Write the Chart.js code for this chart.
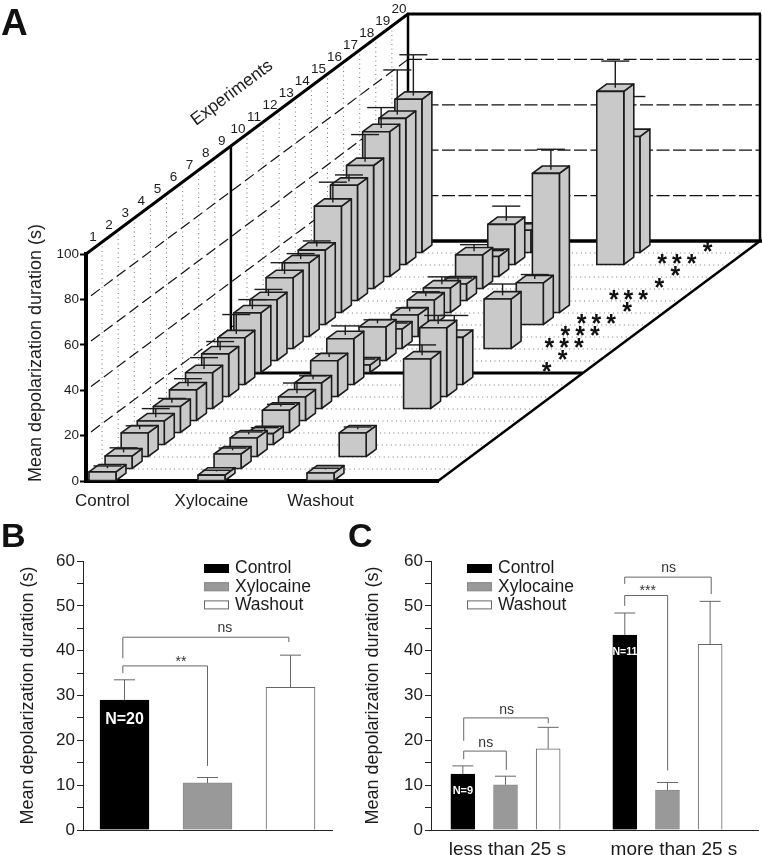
<!DOCTYPE html>
<html>
<head>
<meta charset="utf-8">
<title>Mean depolarization duration</title>
<script src="https://cdn.jsdelivr.net/npm/chart.js@4/dist/chart.umd.min.js"></script>
<style>
  html, body { margin: 0; padding: 0; background: #fff; }
  #page { position: relative; width: 762px; height: 855px; overflow: hidden; }
  canvas { position: absolute; }
</style>
</head>
<body>
<div id="page">
  <canvas id="chartA" width="762" height="515" style="left:0;top:0"></canvas>
  <canvas id="chartB" width="345" height="340" style="left:0;top:515px"></canvas>
  <canvas id="chartC" width="417" height="340" style="left:345px;top:515px"></canvas>
</div>
<script>
// Data
const conditions = ["Control", "Xylocaine", "Washout"];
const experiments = [1, 2, 3, 4, 5, 6, 7, 8, 9, 10, 11, 12, 13, 14, 15, 16, 17, 18, 19, 20];
const axisTicksA = [0, 20, 40, 60, 80, 100];

// Panel A, one value per experiment (null = no bar)
const controlValues = [4, 5.7, 10.6, 10.6, 11.7, 13.7, 16, 19, 20.8, 26.5, 27, 31.4, 32.7, 33, 47, 51, 54.4, 64, 64.6, 67.7];
const controlErrors = [1, 2, 1.5, 3.8, 1.9, 3.3, 5, 3.8, 8.6, 4.2, 2.9, 5, 2.4, 2.4, 9, 2.9, 12, 9, 19.7, 18];
const xylocaineValues = [2.6, 6.6, 8.4, 5, 10, 10.6, 11.5, 16, 20.4, 3.5, 15, 8.8, 9.7, 11, 11, 7.5, 15, 9, 17.9, 10];
const xylocaineErrors = [0.5, 1, 1, 1, 1, 4.5, 1.5, 1.5, 4, 1, 1.5, 1, 1.5, 2, 3.3, 1, 2.9, 1, 6.4, 1.2];
const washoutValues = [3.5, null, 10.6, null, null, null, 22, 30.5, 21, null, null, 22, null, 18.6, 61.5, null, null, null, 76.5, 51.3];
const washoutErrors = [0.5, null, 1, null, null, null, 4.6, 3.8, 8, null, null, 5, null, 2, 9, null, null, null, 11.7, 16];
const significanceRows = [[10, [3]], [11, [3]], [12, [1, 2, 3]], [13, [1, 2, 3]], [14, [1, 2, 3]], [15, [3]], [16, [1, 2, 3]], [17, [3]], [18, [3]], [19, [1, 2, 3]], [20, [3]]];

// Panel B
const bValues = [29, 10.5, 31.8];
const bErrors = [4.5, 1.2, 7.2];

// Panel C
const cGroups = ["less than 25 s", "more than 25 s"];
const cControl = [12.5, 43.5];
const cControlErrors = [1.8, 4.9];
const cXylocaine = [10.1, 8.9];
const cXylocaineErrors = [1.9, 1.7];
const cWashout = [18.1, 41.4];
const cWashoutErrors = [4.8, 9.6];

const FONT = "'Liberation Sans', Arial, sans-serif";
const TEXT = "#1c1c1c";
const Y_TITLE = "Mean depolarization duration (s)";
Chart.defaults.font.family = FONT;
Chart.defaults.color = TEXT;
Chart.defaults.animation = false;

const swatches = [
  { fill: "#000", line: "#000" },
  { fill: "#999", line: "#8c8c8c" },
  { fill: "#fff", line: "#666" },
];

function line(ctx, x1, y1, x2, y2) {
  ctx.beginPath();
  ctx.moveTo(x1, y1);
  ctx.lineTo(x2, y2);
  ctx.stroke();
}

function label(ctx, text, x, y, font, color, align, angle) {
  ctx.save();
  ctx.translate(x, y);
  ctx.rotate(angle || 0);
  ctx.font = font;
  ctx.fillStyle = color || TEXT;
  ctx.textAlign = align || "center";
  ctx.textBaseline = "middle";
  ctx.fillText(text, 0, 0);
  ctx.restore();
}

// Panel letter, legend, error bars, brackets and N= labels for B and C
const annotate = {
  id: "annotate",
  afterDatasetsDraw(chart, args, opts) {
    const ctx = chart.ctx;
    const x = chart.scales.x;
    const y = chart.scales.y;
    ctx.save();

    ctx.strokeStyle = "#666";
    ctx.lineWidth = 1;
    chart.data.datasets.forEach((ds, d) => {
      chart.getDatasetMeta(d).data.forEach((bar, i) => {
        const val = ds.data[i].y !== undefined ? ds.data[i].y : ds.data[i];
        const top = y.getPixelForValue(val + ds.errors[i]);
        line(ctx, bar.x, bar.y, bar.x, top);
        line(ctx, bar.x - opts.capWidth / 2, top, bar.x + opts.capWidth / 2, top);
      });
    });

    opts.brackets.forEach((b) => {
      const top = y.getPixelForValue(b.top);
      ctx.strokeStyle = "#666";
      ctx.beginPath();
      ctx.moveTo(x.getPixelForValue(b.from), y.getPixelForValue(b.fromEnd));
      ctx.lineTo(x.getPixelForValue(b.from), top);
      ctx.lineTo(x.getPixelForValue(b.to), top);
      ctx.lineTo(x.getPixelForValue(b.to), y.getPixelForValue(b.toEnd));
      ctx.stroke();
      label(ctx, b.text, x.getPixelForValue(b.textAt), y.getPixelForValue(b.textY), "14px " + FONT, "#333");
    });

    opts.counts.forEach((n) => {
      label(ctx, n.text, x.getPixelForValue(n.at), y.getPixelForValue(n.y), "bold " + n.size + "px " + FONT, "#fff");
    });

    conditions.forEach((name, i) => {
      const rowY = opts.legendY + i * 18.2;
      ctx.fillStyle = swatches[i].fill;
      ctx.strokeStyle = swatches[i].line;
      ctx.fillRect(opts.legendX, rowY, 25, 9);
      ctx.strokeRect(opts.legendX + 0.5, rowY + 0.5, 24, 8);
      label(ctx, name, opts.legendX + 31, rowY + 4.5, "17.5px " + FONT, TEXT, "left");
    });

    label(ctx, opts.letter, opts.letterX, 23, "bold 34px " + FONT, "#111", "left");
    ctx.restore();
  },
};

function yAxisBC(leftWidth) {
  return {
    min: 0,
    max: 60,
    afterFit(scale) { scale.width = leftWidth; },
    title: { display: true, text: Y_TITLE, font: { size: 18 }, color: TEXT, padding: { top: 17, bottom: 0 } },
    border: { color: "#222", width: 1 },
    grid: { drawOnChartArea: false, tickColor: "#222", tickLength: 6 },
    ticks: {
      stepSize: 5,
      autoSkip: false,
      padding: 2,
      font: { size: 17 },
      color: TEXT,
      callback: (v) => (v % 10 === 0 ? v : ""),
    },
  };
}

// Panel B
new Chart(document.getElementById("chartB"), {
  type: "bar",
  data: {
    labels: conditions,
    datasets: [{
      data: bValues,
      errors: bErrors,
      backgroundColor: swatches.map((s) => s.fill),
      borderColor: swatches.map((s) => s.line),
      borderWidth: 1,
      barThickness: 49,
    }],
  },
  options: {
    responsive: false,
    layout: { padding: { top: 46, bottom: 25, right: 13 } },
    plugins: {
      legend: { display: false },
      tooltip: { enabled: false },
      annotate: {
        capWidth: 21,
        letter: "B",
        letterX: 1,
        legendX: 204,
        legendY: 49,
        brackets: [
          { from: -0.02, to: 1, top: 36.6, fromEnd: 35, toEnd: 14.3, text: "**", textAt: 0.68, textY: 37.4 },
          { from: -0.02, to: 1.98, top: 43, fromEnd: 38.3, toEnd: 41.9, text: "ns", textAt: 1.21, textY: 45 },
        ],
        counts: [{ text: "N=20", at: 0, y: 24.6, size: 16 }],
      },
    },
    scales: {
      x: {
        afterFit(scale) { scale.height = 0; },
        border: { color: "#222", width: 1 },
        grid: { display: false },
        ticks: { display: false },
      },
      y: yAxisBC(83),
    },
  },
  plugins: [annotate],
});

// Panel C: x axis in group units, bars step inside a group
const SERIES_STEP = 0.2634;
const groupPoints = (values, s) => values.map((v, i) => ({ x: i + (s - 1) * SERIES_STEP, y: v }));
const cSeries = [[cControl, cControlErrors], [cXylocaine, cXylocaineErrors], [cWashout, cWashoutErrors]];

new Chart(document.getElementById("chartC"), {
  type: "bar",
  data: {
    datasets: cSeries.map(([values, errors], s) => ({
      label: conditions[s],
      data: groupPoints(values, s),
      errors: errors,
      grouped: false,
      backgroundColor: swatches[s].fill,
      borderColor: swatches[s].line,
      borderWidth: 1,
      barThickness: 24,
    })),
  },
  options: {
    responsive: false,
    layout: { padding: { top: 46, right: 4 } },
    plugins: {
      legend: { display: false },
      tooltip: { enabled: false },
      annotate: {
        capWidth: 21,
        letter: "C",
        letterX: 3,
        legendX: 122,
        legendY: 49,
        brackets: [
          { from: -0.258, to: 0.005, top: 17.6, fromEnd: 15.8, toEnd: 13.4, text: "ns", textAt: -0.122, textY: 19.4 },
          { from: -0.258, to: 0.264, top: 25, fromEnd: 19.9, toEnd: 23.8, text: "ns", textAt: 0.007, textY: 26.8 },
          { from: 0.736, to: 1.001, top: 52.3, fromEnd: 50, toEnd: 13.3, text: "***", textAt: 0.878, textY: 53.2 },
          { from: 0.736, to: 1.27, top: 56.4, fromEnd: 54.9, toEnd: 52.6, text: "ns", textAt: 1.007, textY: 58.4 },
        ],
        counts: [
          { text: "N=9", at: -0.263, y: 8.8, size: 11 },
          { text: "N=11", at: 0.737, y: 39.7, size: 10.5 },
        ],
      },
    },
    scales: {
      x: {
        type: "linear",
        offset: false,
        min: -0.46,
        max: 1.559,
        afterFit(scale) { scale.height = 25; },
        afterBuildTicks(scale) { scale.ticks = [{ value: 0.012 }, { value: 1.04 }]; },
        border: { color: "#222", width: 1 },
        grid: { display: false, offset: false },
        ticks: {
          autoSkip: false,
          maxRotation: 0,
          padding: 0,
          font: { size: 19 },
          color: TEXT,
          callback: (v, i) => cGroups[i],
        },
      },
      y: yAxisBC(86),
    },
  },
  plugins: [annotate],
});

// Panel A: oblique projection. x+y are the front plane, zx/zy carry the experiment depth.
const BAR_W = 27;
const BAR_DX = 10;
const BAR_DY = 7.4;
const CAP = 14;

function depth(chart, exp) {
  return {
    dx: chart.scales.zx.getPixelForValue(exp) - chart.scales.zx.getPixelForValue(1),
    dy: chart.scales.zy.getPixelForValue(exp) - chart.scales.zy.getPixelForValue(1),
  };
}

function drawCuboid(ctx, x, top, bottom) {
  ctx.fillStyle = "#c9c9c9";
  ctx.strokeStyle = "#1c1c1c";
  ctx.lineWidth = 1.6;
  ctx.lineJoin = "round";
  // side face
  ctx.beginPath();
  ctx.moveTo(x + BAR_W, bottom);
  ctx.lineTo(x + BAR_W + BAR_DX, bottom - BAR_DY);
  ctx.lineTo(x + BAR_W + BAR_DX, top - BAR_DY);
  ctx.lineTo(x + BAR_W, top);
  ctx.closePath();
  ctx.fill();
  ctx.stroke();
  // top face
  ctx.beginPath();
  ctx.moveTo(x, top);
  ctx.lineTo(x + BAR_DX, top - BAR_DY);
  ctx.lineTo(x + BAR_W + BAR_DX, top - BAR_DY);
  ctx.lineTo(x + BAR_W, top);
  ctx.closePath();
  ctx.fill();
  ctx.stroke();
  // front face
  ctx.fillRect(x, top, BAR_W, bottom - top);
  ctx.strokeRect(x, top, BAR_W, bottom - top);
}

const wallsAndBars = {
  id: "wallsAndBars",
  beforeDatasetsDraw(chart) {
    const ctx = chart.ctx;
    const { x, y } = chart.scales;
    const area = chart.chartArea;
    const back = depth(chart, 21);
    const left = area.left;
    const right = area.right;
    const y0 = y.getPixelForValue(0);
    const y100 = y.getPixelForValue(100);
    ctx.save();
    ctx.lineCap = "butt";

    // dotted guides on the side wall and on the floor
    ctx.strokeStyle = "#777";
    ctx.lineWidth = 1;
    ctx.setLineDash([1, 3.5]);
    experiments.slice(0, 19).forEach((e) => {
      const d = depth(chart, e + 1);
      if (e !== 9) {
        line(ctx, left + d.dx, y100 + d.dy, left + d.dx, y0 + d.dy);
        line(ctx, left + d.dx, y0 + d.dy, right + d.dx, y0 + d.dy);
      }
    });

    // dashed value lines, side wall then back wall
    ctx.strokeStyle = "#111";
    ctx.lineWidth = 1.2;
    axisTicksA.slice(1, 5).forEach((v) => {
      const py = y.getPixelForValue(v);
      ctx.setLineDash([11, 5]);
      line(ctx, left + 5, py - 3.7, left + back.dx, py + back.dy);
      ctx.setLineDash([13, 3.5]);
      line(ctx, left + back.dx + 1, py + back.dy, right + back.dx, py + back.dy);
    });
    ctx.setLineDash([]);

    // frame
    ctx.strokeStyle = "#000";
    ctx.lineWidth = 3;
    line(ctx, left, y100, left + back.dx, y100 + back.dy);
    line(ctx, left + back.dx - 1, y100 + back.dy, right + back.dx + 1, y100 + back.dy);
    ctx.lineWidth = 2.5;
    line(ctx, left + back.dx, y100 + back.dy, left + back.dx, y0 + back.dy);
    line(ctx, right + back.dx, y100 + back.dy, right + back.dx, y0 + back.dy);
    ctx.lineWidth = 3.5;
    line(ctx, left + back.dx, y0 + back.dy, right + back.dx + 2, y0 + back.dy);
    ctx.lineWidth = 2.5;
    line(ctx, right, y0, right + back.dx, y0 + back.dy);

    // middle plane behind experiment 9
    const mid = depth(chart, 10);
    ctx.lineWidth = 2.5;
    line(ctx, left + mid.dx, y100 + mid.dy, left + mid.dx, y0 + mid.dy);
    ctx.lineWidth = 3;
    line(ctx, left + mid.dx, y0 + mid.dy, right + mid.dx, y0 + mid.dy);

    // bars, back to front
    for (let e = experiments.length - 1; e >= 0; e--) {
      const d = depth(chart, experiments[e]);
      chart.data.datasets.forEach((ds) => {
        const pt = ds.data[e];
        if (!pt || pt.y === null) return;
        const bx = x.getPixelForValue(pt.x) - BAR_W / 2 + d.dx;
        const top = y.getPixelForValue(pt.y) + d.dy;
        drawCuboid(ctx, bx, top, y0 + d.dy - 0.5);
        const cx = bx + BAR_W / 2 + BAR_DX / 2;
        const base = top - BAR_DY / 2;
        const capY = y.getPixelForValue(pt.y + pt.err) + d.dy - BAR_DY / 2;
        ctx.strokeStyle = "#1c1c1c";
        ctx.lineWidth = 1.4;
        line(ctx, cx, base, cx, capY);
        line(ctx, cx - CAP, capY, cx + CAP, capY);
      });
    }
    ctx.restore();
  },
  afterDatasetsDraw(chart) {
    const ctx = chart.ctx;
    const { x, y } = chart.scales;
    const area = chart.chartArea;
    const y100 = y.getPixelForValue(100);

    // significance stars on the floor
    significanceRows.forEach(([exp, slots]) => {
      const d = depth(chart, exp);
      slots.forEach((slot) => {
        const sx = x.getPixelForValue(2.475 + (slot - 1) * 0.135) + d.dx;
        label(ctx, "*", sx, y.getPixelForValue(0) + d.dy, "bold 25px " + FONT, "#111");
      });
    });

    // experiment numbers along the top edge
    experiments.forEach((e) => {
      const d = depth(chart, e);
      label(ctx, String(e), area.left + 7 + d.dx, y100 - 17 + d.dy, "13.5px " + FONT, TEXT);
    });

    const tilt = Math.atan2(12, 16.1);
    label(ctx, "Experiments", 232, 93, "17.5px " + FONT, TEXT, "center", -tilt);
    label(ctx, Y_TITLE, 36, 353, "18px " + FONT, TEXT, "center", -Math.PI / 2);
    label(ctx, "A", 1, 25, "bold 37px " + FONT, "#111", "left");
  },
};

const seriesA = [[controlValues, controlErrors], [xylocaineValues, xylocaineErrors], [washoutValues, washoutErrors]];

new Chart(document.getElementById("chartA"), {
  type: "scatter",
  data: {
    datasets: seriesA.map(([values, errors], c) => ({
      label: conditions[c],
      data: values.map((v, i) => ({ x: c, y: v, err: errors[i] })),
      pointRadius: 0,
      showLine: false,
    })),
  },
  options: {
    responsive: false,
    layout: { padding: { top: 254, right: 324 } },
    plugins: { legend: { display: false }, tooltip: { enabled: false } },
    scales: {
      x: {
        type: "linear",
        min: -0.151,
        max: 3.078,
        afterFit(scale) { scale.height = 34; },
        afterBuildTicks(scale) { scale.ticks = conditions.map((c, i) => ({ value: i })); },
        border: { color: "#000", width: 4 },
        grid: { display: false },
        ticks: {
          autoSkip: false,
          maxRotation: 0,
          padding: 2,
          font: { size: 17 },
          color: TEXT,
          callback: (v, i) => conditions[i],
        },
      },
      y: {
        min: 0,
        max: 100,
        afterFit(scale) { scale.width = 86; },
        afterBuildTicks(scale) { scale.ticks = axisTicksA.map((v) => ({ value: v })); },
        border: { color: "#000", width: 4 },
        grid: { drawOnChartArea: false, tickColor: "#000", tickLength: 6, tickWidth: 2 },
        ticks: { padding: 1, font: { size: 13.5 }, color: TEXT },
      },
      // experiment depth: 16.1 px right and 12 px up per experiment
      zx: { axis: "x", type: "linear", display: false, min: 1, max: 1 + 352 / 16.1 },
      zy: { axis: "y", type: "linear", display: false, min: 1, max: 1 + 227 / 12 },
    },
  },
  plugins: [wallsAndBars],
});
</script>
</body>
</html>
